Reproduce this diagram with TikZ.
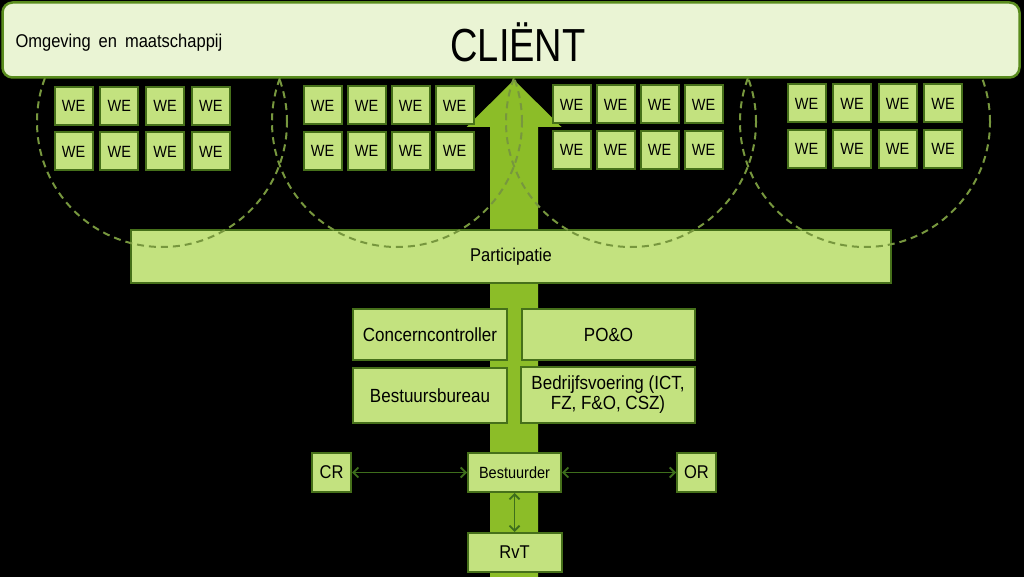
\documentclass[tikz,border=0pt]{standalone}
\usepackage{fontspec}
\setmainfont{Liberation Sans}
\usetikzlibrary{arrows.meta}

\definecolor{palegreen}{HTML}{EAF4D4}
\definecolor{topedge}{HTML}{5A8C1E}
\definecolor{boxgreen}{HTML}{C3E27F}
\definecolor{edgegreen}{HTML}{46701A}
\definecolor{arrowgreen}{HTML}{8CBD28}
\definecolor{dashgreen}{HTML}{77973E}
\definecolor{linkgreen}{HTML}{3E6E1C}

\newcommand{\tall}[1]{\scalebox{1}[1.12]{#1}}

\tikzset{
  webox/.style={draw=edgegreen, fill=boxgreen, line width=2pt, minimum width=38pt, minimum height=38pt, inner sep=0pt, font=\fontsize{14.5}{16}\selectfont},
  unit/.style={draw=edgegreen, fill=boxgreen, line width=2pt, inner sep=0pt, align=center, font=\fontsize{17}{20}\selectfont},
  link/.style={linkgreen, line width=1.8pt, {Straight Barb[length=5pt,width=10pt]}-{Straight Barb[length=5pt,width=10pt]}},
}

\begin{document}
\begin{tikzpicture}[x=1pt,y=-1pt]
		%%%%% START %%%%%
		
		\fill[black] (0,0) rectangle (1024,577);
		\useasboundingbox (0,0) rectangle (1024,577);
		
		% big arrow
		\fill[arrowgreen] (490,577) -- (490,127) -- (466.5,127) -- (514,80) -- (561.5,127) -- (538,127) -- (538,577) -- cycle;
		
		\node[unit, minimum width=760pt, minimum height=53pt, font=\fontsize{16.5}{19}\selectfont] (participatie) at (511,256.5) {\tall{Participatie}};
		
		\node[unit, minimum width=154pt, minimum height=51pt] (concern) at (430,334.5) {\tall{Concerncontroller}};
		\node[unit, minimum width=173pt, minimum height=51pt] (poeno) at (608.5,334.5) {\tall{PO\&O}};
		\node[unit, minimum width=154pt, minimum height=55pt] (bureau) at (430,395.5) {\tall{Bestuursbureau}};
		\node[unit, minimum width=174pt, minimum height=56pt] (bedrijf) at (608,395) {\tall{Bedrijfsvoering (ICT,}\\\tall{FZ, F\&O, CSZ)}};
		
		\node[unit, minimum width=39pt, minimum height=39pt, font=\fontsize{16.5}{19}\selectfont] (crbox) at (331.5,472.5) {\tall{CR}};
		\node[unit, minimum width=93pt, minimum height=39pt, font=\fontsize{14.5}{17}\selectfont] (bestuurder) at (514.5,472.5) {\tall{Bestuurder}};
		\node[unit, minimum width=39pt, minimum height=39pt, font=\fontsize{16.5}{19}\selectfont] (orbox) at (696.5,472.5) {\tall{OR}};
		\node[unit, minimum width=94pt, minimum height=39pt, font=\fontsize{16.5}{19}\selectfont] (rvt) at (514.5,552.5) {\tall{RvT}};
		
		\draw[link] (crbox) -- (bestuurder);
		\draw[link] (bestuurder) -- (orbox);
		\draw[link] (bestuurder) -- (rvt);
		
		% werkeenheden
		\foreach \g/\gx/\gy/\d in {1/73.5/106/45.8, 2/322.5/105.5/44, 3/571.5/104.5/44, 4/806.5/103.5/45.5}
			\foreach \c in {0,...,3}
				\foreach \r in {0,1}
					\node[webox] (we-\g-\r-\c) at (\gx+\c*\d, \gy+\r*45.5) {\tall{WE}};
		
		% dashed circles
		\begin{scope}
			\clip (0,78) rectangle (1024,577);
			\foreach \cx in {162,397,631,865}
				\draw[dashgreen, line width=2pt, dash pattern=on 7pt off 5pt] (\cx,122) circle[radius=125pt];
		\end{scope}
		
		\node[draw=topedge, fill=palegreen, rounded corners=10pt, line width=2.5pt, minimum width=1017pt, minimum height=75pt, inner sep=0pt] (omgeving) at (511,40) {};
		\node[anchor=base west, font=\fontsize{16.5}{19}\selectfont] (omgevingtxt) at (12,47.5) {\tall{Omgeving\hspace{8pt}en\hspace{8pt}maatschappij}};
		\node[anchor=base, font=\fontsize{38}{42}\selectfont] (client) at (518,62) {\scalebox{1}[1.22]{CLIËNT}};
		
		%%%%% END %%%%%
\end{tikzpicture}
\end{document}
